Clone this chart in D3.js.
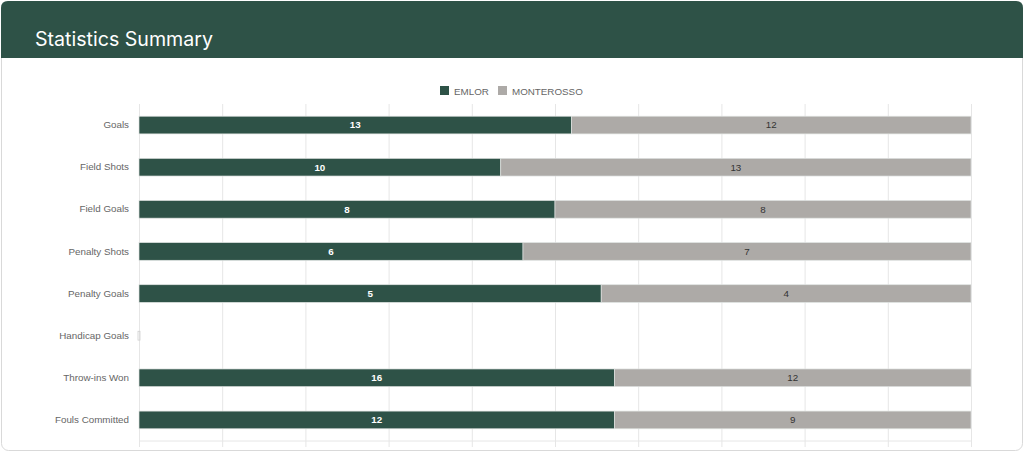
<!DOCTYPE html>
<html>
  <head>
    <title>Statistics Summary</title>
    <script src="https://cdn.jsdelivr.net/npm/d3@7"></script>
    <style>
      body { margin: 0; background: #fff; }
    </style>
  </head>
  <body>
    <svg width="1024" height="452" id="mainsvg"></svg>
    <script>
        const categories = ['Goals', 'Field Shots', 'Field Goals', 'Penalty Shots',
          'Penalty Goals', 'Handicap Goals', 'Throw-ins Won', 'Fouls Committed'];
        const emlor = [13, 10, 8, 6, 5, 0, 16, 12];
        const monterosso = [12, 13, 8, 7, 4, 0, 12, 9];
        const seriesNames = ['EMLOR', 'MONTEROSSO'];
        const colors = ['#2e5247', '#adaaa7'];

        const svg = d3.select('#mainsvg');
        const width = +svg.attr('width');
        const height = +svg.attr('height');
        const margin = {top: 104, right: 53, bottom: 11, left: 139};
        const innerWidth = width - margin.left - margin.right;
        const innerHeight = height - margin.top - margin.bottom;

        // card + header
        svg.append('rect').attr('x', 1.5).attr('y', 1.5).attr('width', width - 3).attr('height', height - 3)
          .attr('rx', 7).attr('fill', '#fff').attr('stroke', '#d9d9d9');
        svg.append('path')
          .attr('d', `M1,58 L1,8 Q1,1 8,1 L${width - 8},1 Q${width - 1},1 ${width - 1},8 L${width - 1},58 Z`)
          .attr('fill', '#2e5247');
        svg.append('text').text('Statistics Summary')
          .attr('x', 35).attr('y', 46)
          .attr('fill', '#fff').attr('font-family', 'Inter, sans-serif').attr('font-size', '19.6px');

        const data = categories.map((c, i) => {
          const total = emlor[i] + monterosso[i];
          return {name: c, a: emlor[i], b: monterosso[i], total: total};
        });

        const xScale = d3.scaleLinear().domain([0, 1]).range([0, innerWidth]);
        const yScale = d3.scaleBand().domain(categories).range([0, innerHeight])
          .paddingInner(0.58).paddingOuter(0.29);

        const g = svg.append('g').attr('id', 'maingroup')
          .attr('transform', `translate(${margin.left}, ${margin.top})`);

        // grid
        const xAxis = d3.axisBottom(xScale).ticks(10).tickSize(innerHeight + 6).tickFormat('');
        g.append('g').call(xAxis)
          .call(ax => ax.select('.domain').remove())
          .call(ax => ax.selectAll('.tick line').attr('stroke', '#e6e6e6'));
        g.append('line').attr('x1', 0).attr('x2', innerWidth).attr('y1', innerHeight).attr('y2', innerHeight)
          .attr('stroke', '#e6e6e6');

        const font = '"Liberation Sans", Arial, sans-serif';
        const yAxis = d3.axisLeft(yScale).tickSize(0).tickPadding(10);
        g.append('g').call(yAxis)
          .call(ax => ax.select('.domain').attr('stroke', '#e6e6e6'))
          .call(ax => ax.selectAll('.tick text')
            .attr('fill', '#666').attr('font-size', '9.8px').attr('font-family', font));

        data.forEach(d => {
          const pa = d.total ? d.a / d.total : 0;
          const pb = d.total ? d.b / d.total : 0;
          const y = yScale(d.name);
          const h = yScale.bandwidth();
          g.append('rect').attr('x', xScale(0)).attr('y', y)
            .attr('width', xScale(pa)).attr('height', h)
            .attr('fill', colors[0]).attr('stroke', '#dfe3e1').attr('stroke-width', 0.7);
          g.append('rect').attr('x', xScale(pa)).attr('y', y)
            .attr('width', xScale(pa + pb) - xScale(pa)).attr('height', h)
            .attr('fill', colors[1]).attr('stroke', '#dfe3e1').attr('stroke-width', 0.7);
          if (d.total) {
            g.append('text').text(d.a)
              .attr('x', xScale(pa / 2)).attr('y', y + h / 2).attr('dy', '0.35em')
              .attr('text-anchor', 'middle').attr('fill', '#fff')
              .attr('font-size', '9.8px').attr('font-weight', 'bold').attr('font-family', font);
            g.append('text').text(d.b)
              .attr('x', xScale(pa + pb / 2)).attr('y', y + h / 2).attr('dy', '0.35em')
              .attr('text-anchor', 'middle').attr('fill', '#333')
              .attr('font-size', '9.8px').attr('font-family', font);
          } else {
            // empty row: only the thin bar edge shows at zero
            g.append('rect').attr('x', xScale(0) - 1).attr('y', y + h * 0.25)
              .attr('width', 2).attr('height', h * 0.5)
              .attr('fill', 'none').attr('stroke', '#d0d0d0').attr('stroke-width', 0.8);
          }
        });

        // legend
        const legend = svg.append('g').attr('transform', 'translate(440, 86)');
        const offsets = [0, 58];
        seriesNames.forEach((s, i) => {
          legend.append('rect').attr('x', offsets[i]).attr('y', 0).attr('width', 9).attr('height', 9)
            .attr('fill', colors[i]);
          legend.append('text').text(s).attr('x', offsets[i] + 14).attr('y', 8.5)
            .attr('fill', '#666').attr('font-size', '9.8px').attr('font-family', font);
        });
    </script>
  </body>
</html>
